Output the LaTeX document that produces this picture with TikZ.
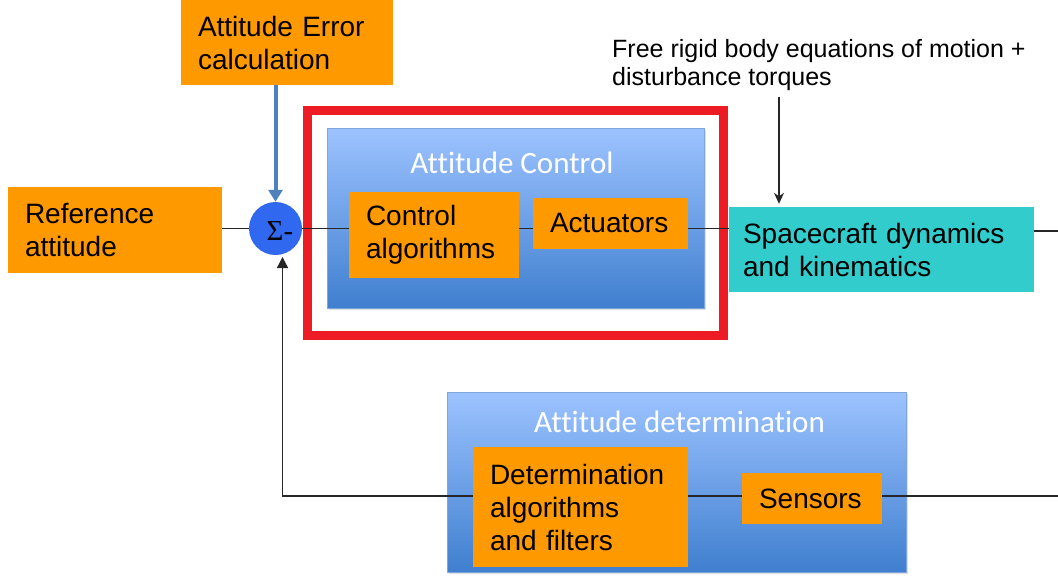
\documentclass[tikz,border=0pt]{standalone}
\usepackage{fontspec}
\setmainfont{Liberation Sans}
\newfontfamily\titlefont[Ligatures=NoCommon]{Carlito}
\newfontfamily\sumfont{Liberation Serif}
\usetikzlibrary{arrows.meta,shadows,calc}
\definecolor{orbox}{HTML}{FF9900}
\definecolor{teal}{HTML}{33CCCC}
\definecolor{gtop}{HTML}{9DC3FF}
\definecolor{gbot}{HTML}{3F7FCF}
\definecolor{gedge}{HTML}{7FA6DA}
\definecolor{sumblue}{HTML}{3069F0}
\definecolor{arrblue}{HTML}{4F81BD}
\definecolor{redframe}{HTML}{ED1C24}
\begin{document}
\begin{tikzpicture}[x=1pt,y=-1pt,
  txt/.style={font=\fontsize{28}{33}\selectfont},
  obox/.style={txt,fill=orbox,inner xsep=17pt,inner ysep=0pt,align=left},
  gbox/.style={draw=gedge,line width=0.8pt,top color=gtop,bottom color=gbot,
    inner sep=0pt,drop shadow={opacity=0.25,shadow xshift=2pt,shadow yshift=-2pt}},
  gtitle/.style={text=white,font=\titlefont\fontsize{31}{36}\selectfont,inner sep=0pt},
  wire/.style={draw=black!85,line width=1.4pt},
  arr/.style={wire,-{Triangle[length=11pt,width=11pt]}}]
\useasboundingbox (0,0) rectangle (1058,576);
\fill[white] (0,0) rectangle (1058,576);

% red frame
\node[draw=redframe,line width=9pt,minimum width=416pt,minimum height=225pt,inner sep=0pt] (frame) at (515,222.5) {};

% grouping boxes
\node[gbox,minimum width=377pt,minimum height=180pt] (ctrlgrp) at (515.5,218) {};
\node[gbox,minimum width=459pt,minimum height=180pt] (detgrp) at (676.5,482) {};
\node[gtitle,anchor=base] (ctrltitle) at (512,173) {Attitude Control};
\node[gtitle,anchor=base] (dettitle) at (679.5,432) {Attitude determination};

% orange boxes
\node[obox,text width=180pt,minimum height=86pt] (ref) at (115,230) {Reference\\attitude};
\node[obox,text width=178pt,minimum height=85pt] (err) at (287,42.5) {Attitude Error\\calculation};
\node[obox,text width=136pt,minimum height=86pt] (calg) at (434,235) {Control\\algorithms};
\node[obox,text width=121pt,minimum height=51pt] (act) at (610.5,223.5) {Actuators};
\node[obox,text width=181pt,minimum height=120pt] (dalg) at (580.5,507) {Determination\\algorithms\\and filters};
\node[obox,text width=106pt,minimum height=51pt] (sens) at (812,498.5) {Sensors};
\node[txt,fill=teal,inner xsep=14pt,inner ysep=0pt,align=left,text width=277pt,minimum height=85pt] (sc) at (881.5,249.5) {Spacecraft dynamics\\and kinematics};

% summing junction
\node[circle,fill=sumblue,minimum size=53pt,inner sep=0pt] (sum) at (275.5,228.5) {};
\node[inner sep=0pt,font=\sumfont\fontsize{29}{32}\selectfont,anchor=base] (sumtxt) at (280,240) {Σ-};

% free text
\node[anchor=north west,inner sep=0pt,align=left,font=\fontsize{25}{28}\selectfont] (free) at (612,39) {Free rigid body equations of motion +\\disturbance torques};
\coordinate (ftop) at (779,97);
\coordinate (rend) at (1058,231);
\coordinate (send) at (1058,496);
\coordinate (fbcorner) at (282.5,496);

% connectors
\draw[wire] (ref.east |- sum) -- (sum.west);
\draw[wire] (sum.east) -- (calg.west |- sum);
\draw[wire] (calg.east |- sum) -- (act.west |- sum);
\draw[wire] (act.east |- sum) -- (sc.west |- sum);
\draw[wire] (sc.east |- rend) -- (rend);
\draw[line width=4pt,draw=arrblue,-{Triangle[length=12pt,width=14pt]}] (err.south -| sum) -- (sum.north);
\draw[wire,-{Stealth[length=11pt,width=10pt]}] (ftop) -- ($(ftop |- sc.north)+(0,-3)$);
\draw[wire] (sens.east |- send) -- (send);
\draw[wire] (sens.west |- send) -- (dalg.east |- send);
\draw[arr] (dalg.west |- send) -- (fbcorner) -- (fbcorner |- 0,257);
\end{tikzpicture}
\end{document}
